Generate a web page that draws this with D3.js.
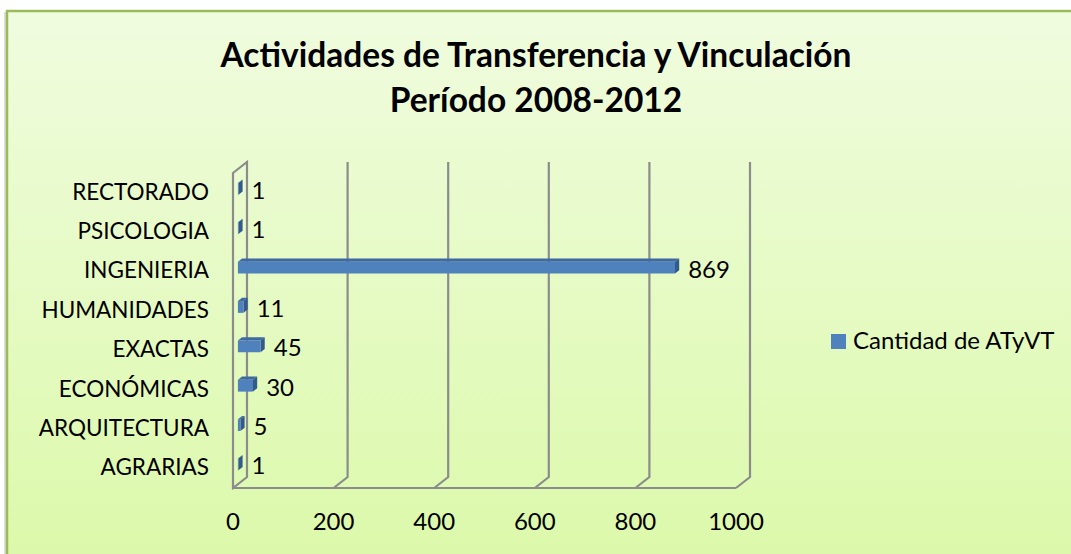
<!DOCTYPE html>
<html>
<head>
<meta charset="utf-8">
<script src="https://cdn.jsdelivr.net/npm/d3@7"></script>
<style>
  body { margin: 0; background: #fff; }
  text { font-family: Lato, "Open Sans", sans-serif; fill: #000; }
</style>
</head>
<body>
<div id="chart"></div>
<script>
// data
var categories = ["AGRARIAS", "ARQUITECTURA", "ECONÓMICAS", "EXACTAS", "HUMANIDADES", "INGENIERIA", "PSICOLOGIA", "RECTORADO"];
var values = [1, 5, 30, 45, 11, 869, 1, 1];
var ticks = [0, 200, 400, 600, 800, 1000];
var seriesName = "Cantidad de ATyVT";
var titleLines = ["Actividades de Transferencia y Vinculación", "Período 2008-2012"];

var width = 1071, height = 554;

var svg = d3.select('#chart')
  .append('svg')
  .attr('width', width)
  .attr('height', height);

// background gradient
var defs = svg.append('defs');
var grad = defs.append('linearGradient')
  .attr('id', 'bg')
  .attr('x1', 0).attr('y1', 0).attr('x2', 0).attr('y2', 1);
grad.append('stop').attr('offset', '0%').attr('stop-color', '#f0fcdf');
grad.append('stop').attr('offset', '100%').attr('stop-color', '#dbf9a9');

svg.append('rect')
  .attr('x', 4).attr('y', 12).attr('width', 1100).attr('height', 560)
  .attr('fill', '#bbbbbb').attr('opacity', 0.5);
svg.append('rect')
  .attr('x', 7).attr('y', 11).attr('width', 1100).attr('height', 560)
  .attr('fill', 'url(#bg)')
  .attr('stroke', '#9bbb59').attr('stroke-width', 2.5);

// title
svg.append('g').selectAll('text')
  .data(titleLines)
  .enter()
  .append('text')
  .attr('x', 536)
  .attr('y', function (d, i) { return 67 + i * 45; })
  .attr('text-anchor', 'middle')
  .style('font-size', '33.5px')
  .style('font-weight', 'bold')
  .text(function (d) { return d; });

// 3d geometry
var DX = 14, DY = -11;  // depth of the plot box
var x = d3.scaleLinear().domain([0, 1000]).range([233, 736]);
var y = d3.scaleBand().domain(categories).range([488, 173]);

var gridColor = '#8c8c8c';
var grid = svg.append('g')
  .attr('stroke', gridColor)
  .attr('stroke-width', 2.2)
  .attr('fill', 'none');

// left wall
grid.append('path')
  .attr('d', 'M' + x(0) + ',' + y.range()[1] +
    'L' + (x(0) + DX) + ',' + (y.range()[1] + DY) +
    'L' + (x(0) + DX) + ',' + (y.range()[0] + DY) +
    'L' + x(0) + ',' + y.range()[0] + 'Z');

// back wall gridlines + floor diagonals
ticks.forEach(function (t) {
  if (t > 0) {
    grid.append('path')
      .attr('d', 'M' + (x(t) + DX) + ',' + (y.range()[1] + DY) +
        'L' + (x(t) + DX) + ',' + (y.range()[0] + DY) +
        'L' + x(t) + ',' + y.range()[0]);
  }
});
// floor front edge
grid.append('path')
  .attr('d', 'M' + x(0) + ',' + y.range()[0] + 'L' + x(1000) + ',' + y.range()[0]);

// tick labels
svg.append('g').selectAll('text')
  .data(ticks)
  .enter()
  .append('text')
  .attr('x', function (d) { return x(d); })
  .attr('y', 530)
  .attr('text-anchor', 'middle')
  .style('font-size', '24px')
  .text(function (d) { return d; });

// category labels
svg.append('g').selectAll('text')
  .data(categories)
  .enter()
  .append('text')
  .attr('x', 209)
  .attr('y', function (d) { return y(d) + y.bandwidth() / 2 + 7; })
  .attr('text-anchor', 'end')
  .style('font-size', '22.5px')
  .text(function (d) { return d; });

// bars (3d boxes)
var d0 = 0.35, d1 = 0.65;
var barH = y.bandwidth() * 0.3;
var bars = svg.append('g').selectAll('g')
  .data(categories)
  .enter()
  .append('g');

function box(d, i) {
  var g = d3.select(this);
  var x0 = x(0) + DX * d0, x1 = x(values[i]) + DX * d0;
  var yc = y(d) + y.bandwidth() / 2 + DY * d0;
  var yt = yc - barH / 2, yb = yc + barH / 2;
  var ddx = DX * (d1 - d0), ddy = DY * (d1 - d0);
  // top face
  g.append('path')
    .attr('d', 'M' + x0 + ',' + yt + 'L' + (x0 + ddx) + ',' + (yt + ddy) +
      'L' + (x1 + ddx) + ',' + (yt + ddy) + 'L' + x1 + ',' + yt + 'Z')
    .attr('fill', '#3f69a0');
  // end face
  g.append('path')
    .attr('d', 'M' + x1 + ',' + yt + 'L' + (x1 + ddx) + ',' + (yt + ddy) +
      'L' + (x1 + ddx) + ',' + (yb + ddy) + 'L' + x1 + ',' + yb + 'Z')
    .attr('fill', '#335a8c');
  // front face
  g.append('rect')
    .attr('x', x0).attr('y', yt)
    .attr('width', Math.max(0, x1 - x0)).attr('height', barH)
    .attr('fill', '#4f81bd');
  // value label
  g.append('text')
    .attr('x', x(values[i]) + DX * d1 + 9)
    .attr('y', yc + 10)
    .style('font-size', '24px')
    .text(values[i]);
}
bars.each(box);

// legend
var legend = svg.append('g').attr('transform', 'translate(831,334)');
legend.append('rect')
  .attr('width', 15).attr('height', 15)
  .attr('fill', '#4f81bd');
legend.append('text')
  .attr('x', 22).attr('y', 15)
  .style('font-size', '24px')
  .text(seriesName);
</script>
</body>
</html>
